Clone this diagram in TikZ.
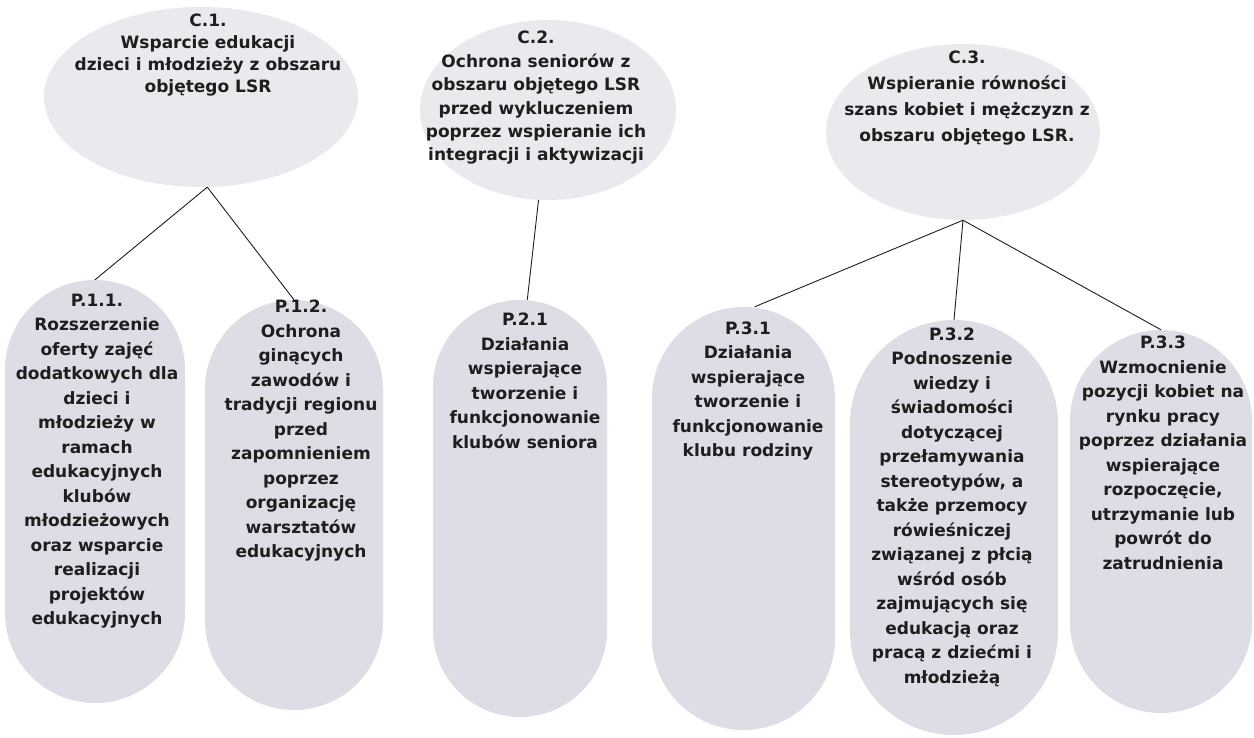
\documentclass[tikz,border=0pt]{standalone}
\usepackage{fontspec}
\setmainfont{DejaVu Sans}
\usetikzlibrary{shapes.geometric}
\definecolor{ellfill}{RGB}{234,234,238}
\definecolor{pillfill}{RGB}{222,221,230}
\definecolor{inkc}{RGB}{30,30,30}
\begin{document}
\begin{tikzpicture}[x=1pt,y=-1pt,
  goal/.style={ellipse, fill=ellfill, draw=none, inner sep=0pt},
  pill/.style={rectangle, fill=pillfill, draw=none, inner sep=0pt},
  txt/.style={align=center, inner sep=0pt, text=inkc, font=\fontsize{17}{24.5}\selectfont\bfseries},
  conn/.style={draw=inkc, line width=0.9pt}
]
\useasboundingbox (0,0) rectangle (1254,737);
\fill[white] (0,0) rectangle (1254,737);

% goal ellipses
\node[goal, minimum width=314pt, minimum height=180pt] (c1) at (201,97) {};
\node[goal, minimum width=256pt, minimum height=180pt] (c2) at (548,110) {};
\node[goal, minimum width=274pt, minimum height=176pt] (c3) at (963,132) {};

% pills
\node[pill, minimum width=180pt, minimum height=423pt, rounded corners=90pt] (p11) at (95,491.5) {};
\node[pill, minimum width=178pt, minimum height=410pt, rounded corners=89pt] (p12) at (294,505) {};
\node[pill, minimum width=174pt, minimum height=417pt, rounded corners=87pt] (p21) at (520,508.5) {};
\node[pill, minimum width=183pt, minimum height=423pt, rounded corners=91.5pt] (p31) at (743.5,518.5) {};
\node[pill, minimum width=208pt, minimum height=415pt, rounded corners=104pt] (p32) at (954,527.5) {};
\node[pill, minimum width=182pt, minimum height=383pt, rounded corners=91pt] (p33) at (1161,521.5) {};

% connectors
\draw[conn] (c1.274) -- (p11.north);
\draw[conn] (c1.274) -- (p12.north);
\draw[conn] (c2.264) -- (p21.88);
\draw[conn] (c3.south) -- (p31.87);
\draw[conn] (c3.south) -- (p32.north);
\draw[conn] (c3.south) -- (p33.north);

% texts
\node[txt, font=\fontsize{17}{21.7}\selectfont\bfseries] (t1) at (208,55)
  {C.1.\\Wsparcie edukacji\\dzieci i młodzieży z obszaru\\objętego LSR};
\node[txt, font=\fontsize{17}{23.4}\selectfont\bfseries] (t2) at (536,98)
  {C.2.\\Ochrona seniorów z\\obszaru objętego LSR\\przed wykluczeniem\\poprzez wspieranie ich\\integracji i aktywizacji};
\node[txt, font=\fontsize{17}{25.7}\selectfont\bfseries] (t3) at (967,98)
  {C.3.\\Wspieranie równości\\szans kobiet i mężczyzn z\\obszaru objętego LSR.};

\node[txt] (q11) at (97,461)
  {P.1.1.\\Rozszerzenie\\oferty zajęć\\dodatkowych dla\\dzieci i\\młodzieży w\\ramach\\edukacyjnych\\klubów\\młodzieżowych\\oraz wsparcie\\realizacji\\projektów\\edukacyjnych};
\node[txt] (q12) at (301,431)
  {P.1.2.\\Ochrona\\ginących\\zawodów i\\tradycji regionu\\przed\\zapomnieniem\\poprzez\\organizację\\warsztatów\\edukacyjnych};
\node[txt] (q21) at (525,381)
  {P.2.1\\Działania\\wspierające\\tworzenie i\\funkcjonowanie\\klubów seniora};
\node[txt] (q31) at (748,391)
  {P.3.1\\Działania\\wspierające\\tworzenie i\\funkcjonowanie\\klubu rodziny};
\node[txt] (q32) at (952,507)
  {P.3.2\\Podnoszenie\\wiedzy i\\świadomości\\dotyczącej\\przełamywania\\stereotypów, a\\także przemocy\\rówieśniczej\\związanej z płcią\\wśród osób\\zajmujących się\\edukacją oraz\\pracą z dziećmi i\\młodzieżą};
\node[txt] (q33) at (1163,453)
  {P.3.3\\Wzmocnienie\\pozycji kobiet na\\rynku pracy\\poprzez działania\\wspierające\\rozpoczęcie,\\utrzymanie lub\\powrót do\\zatrudnienia};
\end{tikzpicture}
\end{document}
